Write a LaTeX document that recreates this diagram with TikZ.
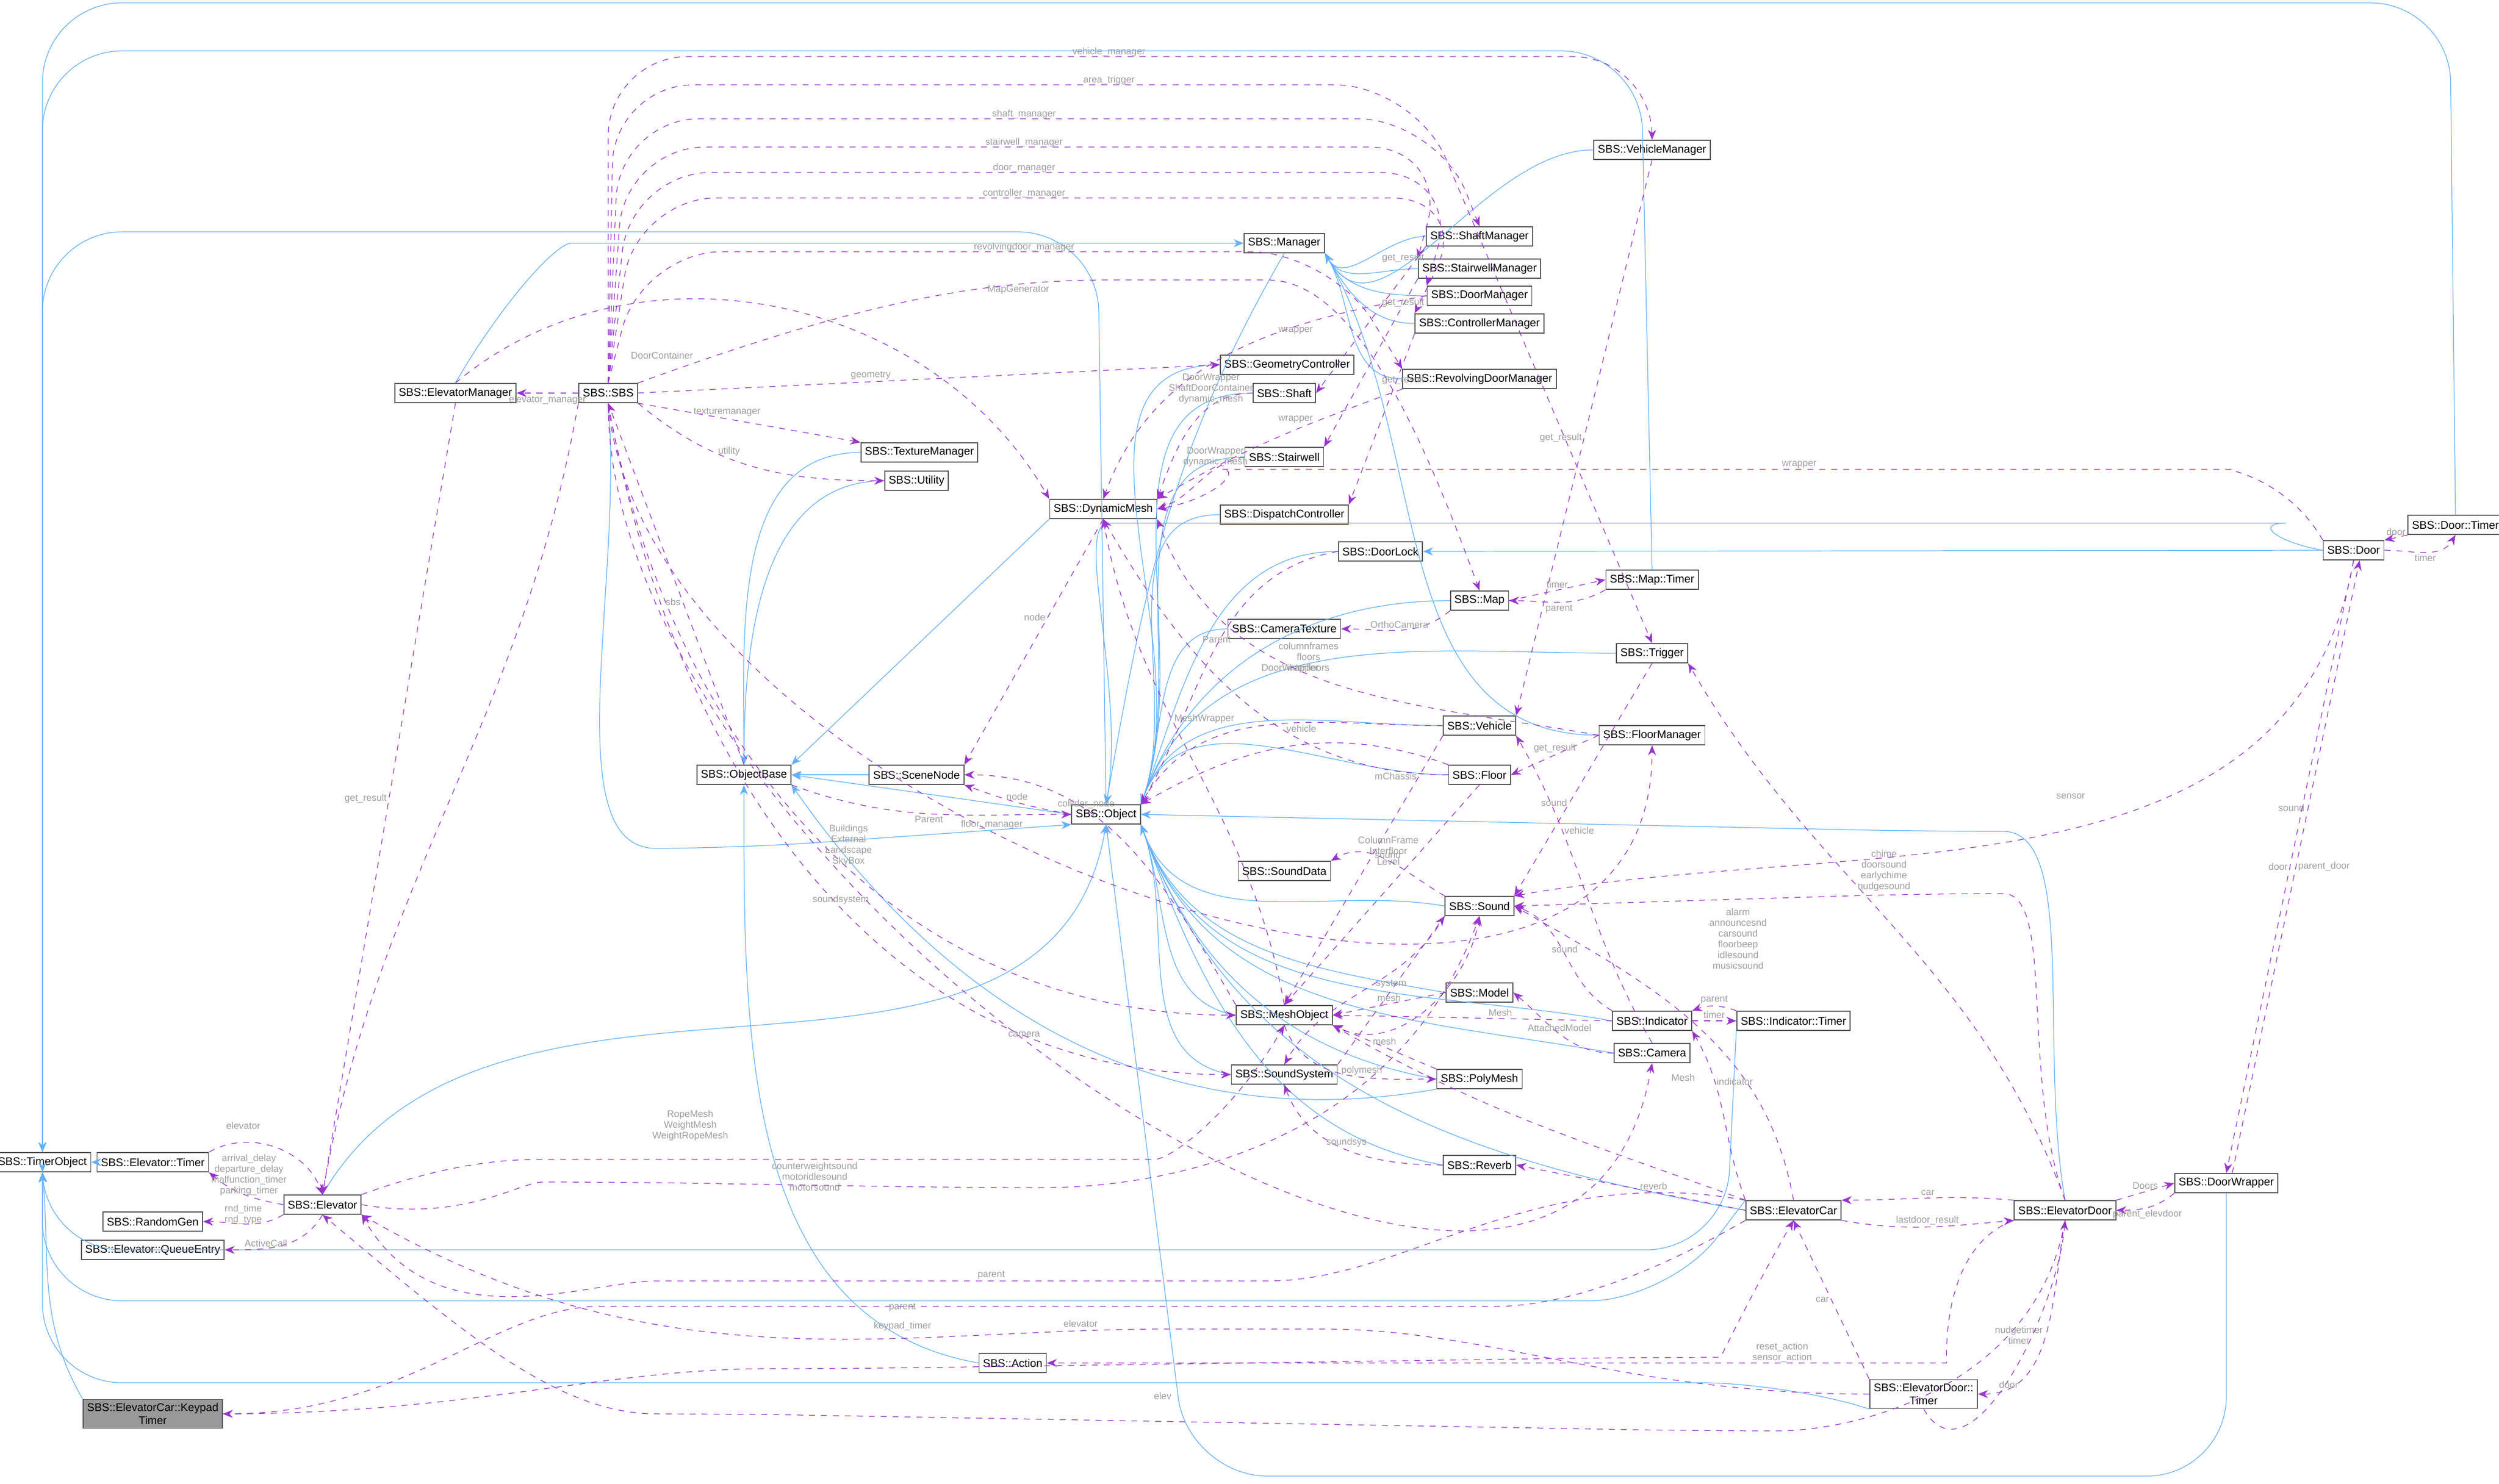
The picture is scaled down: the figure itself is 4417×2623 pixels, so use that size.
\documentclass[tikz,border=0pt]{standalone}
\usepackage{fontspec}
\setmainfont{Liberation Sans}
\usetikzlibrary{arrows.meta}
\definecolor{inhblue}{rgb}{0.39, 0.69, 1.0}
\definecolor{usepurple}{rgb}{0.6, 0.2, 0.8}
\definecolor{lblgray}{rgb}{0.62, 0.62, 0.62}
\definecolor{keygray}{rgb}{0.6, 0.6, 0.6}
\tikzset{cls/.style = {draw=black!65, fill=white, line width=0.5pt, inner sep=2pt,
            minimum height=0.34cm, font=\fontsize{5.6}{6.4}\selectfont, align=center},
         keycls/.style = {cls, fill=keygray},
         inh/.style = {draw=inhblue, line width=0.35pt, rounded corners=40pt, -{Stealth[length=5pt,width=4pt]}},
         use/.style = {draw=usepurple, line width=0.35pt, dashed, rounded corners=40pt, -{Stealth[length=5pt,width=4pt]}},
         lbl/.style = {text=lblgray, font=\fontsize{4.8}{5.4}\selectfont, align=center, inner sep=1pt}}
\begin{document}
\begin{tikzpicture}[x=0.01cm, y=-0.01cm]
\useasboundingbox (0,0) rectangle (4417,2623);
% classes, left part
\node[cls] (timerobj) at (75,2055) {SBS::TimerObject};
\node[keycls] (keytimer) at (270,2500) {SBS::ElevatorCar::Keypad\\Timer};
\node[cls] (elevtimer) at (270,2055) {SBS::Elevator::Timer};
\node[cls] (randomgen) at (270,2160) {SBS::RandomGen};
\node[cls] (queueentry) at (270,2210) {SBS::Elevator::QueueEntry};
\node[cls] (elevator) at (570,2130) {SBS::Elevator};
\node[cls] (elevmgr) at (805,695) {SBS::ElevatorManager};
\node[cls] (sbs) at (1075,695) {SBS::SBS};
\node[cls] (objbase) at (1315,1370) {SBS::ObjectBase};
\node[cls] (texmgr) at (1625,800) {SBS::TextureManager};
\node[cls] (utility) at (1620,850) {SBS::Utility};
\node[cls] (scenenode) at (1620,1370) {SBS::SceneNode};
\node[cls] (dynmesh) at (1950,900) {SBS::DynamicMesh};
\node[cls] (object) at (1955,1440) {SBS::Object};
\node[cls] (action) at (1790,2410) {SBS::Action};
% classes, middle part
\node[cls] (manager) at (2270,430) {SBS::Manager};
\node[cls] (geomctrl) at (2275,645) {SBS::GeometryController};
\node[cls] (shaft) at (2270,695) {SBS::Shaft};
\node[cls] (stairwell) at (2270,808) {SBS::Stairwell};
\node[cls] (dispatch) at (2270,910) {SBS::DispatchController};
\node[cls] (camtex) at (2270,1112) {SBS::CameraTexture};
\node[cls] (sounddata) at (2270,1540) {SBS::SoundData};
\node[cls] (meshobj) at (2270,1795) {SBS::MeshObject};
\node[cls] (soundsys) at (2270,1900) {SBS::SoundSystem};
\node[cls] (shaftmgr) at (2615,418) {SBS::ShaftManager};
\node[cls] (stairmgr) at (2615,475) {SBS::StairwellManager};
\node[cls] (doormgr) at (2615,523) {SBS::DoorManager};
\node[cls] (ctrlmgr) at (2615,572) {SBS::ControllerManager};
\node[cls] (revmgr) at (2615,670) {SBS::RevolvingDoorManager};
\node[cls] (doorlock) at (2440,975) {SBS::DoorLock};
\node[cls] (map) at (2615,1062) {SBS::Map};
\node[cls] (vehicle) at (2615,1283) {SBS::Vehicle};
\node[cls] (floor) at (2615,1370) {SBS::Floor};
\node[cls] (sound) at (2615,1602) {SBS::Sound};
\node[cls] (model) at (2615,1755) {SBS::Model};
\node[cls] (polymesh) at (2615,1908) {SBS::PolyMesh};
\node[cls] (reverb) at (2615,2060) {SBS::Reverb};
% classes, right part
\node[cls] (vehmgr) at (2920,265) {SBS::VehicleManager};
\node[cls] (maptimer) at (2920,1025) {SBS::Map::Timer};
\node[cls] (trigger) at (2920,1155) {SBS::Trigger};
\node[cls] (floormgr) at (2920,1300) {SBS::FloorManager};
\node[cls] (indicator) at (2920,1805) {SBS::Indicator};
\node[cls] (camera) at (2920,1862) {SBS::Camera};
\node[cls] (indtimer) at (3170,1805) {SBS::Indicator::Timer};
\node[cls] (elevcar) at (3170,2140) {SBS::ElevatorCar};
\node[cls] (edtimer) at (3400,2465) {SBS::ElevatorDoor::\\Timer};
\node[cls] (elevdoor) at (3650,2140) {SBS::ElevatorDoor};
\node[cls] (doorwrap) at (3935,2092) {SBS::DoorWrapper};
\node[cls] (door) at (4160,973) {SBS::Door};
\node[cls] (doortimer) at (4340,928) {SBS::Door::Timer};

% inheritance
\draw[inh] (elevtimer) -- (timerobj);
\draw[inh] (keytimer.north west) to[out=120,in=-85] (timerobj.south);
\draw[inh] (elevcar.north west) -- (2950,2300) -- (75,2300) -- (timerobj.south);
\draw[inh] (edtimer.south west) -- (3150,2445) -- (75,2445) -- (timerobj.south);
\draw[inh] (indtimer.south west) -- (3050,2210) -- (75,2210) -- (timerobj.south);
\draw[inh] (doortimer.north) -- (4330,5) -- (75,5) -- (timerobj.north);
\draw[inh] (maptimer.north) -- (2900,90) -- (75,90) -- (timerobj.north);
\draw[inh] (object.north) -- (1940,410) -- (75,410) -- (timerobj.north);
\draw[inh] (elevmgr.north) to[out=60,in=180] (1150,430) -- (manager.west);
\foreach \m in {shaftmgr,stairmgr,doormgr,ctrlmgr,revmgr,floormgr,vehmgr}
  \draw[inh] (\m.west) to[out=180,in=-60] (manager.south east);
\draw[inh] (manager.south) to[out=-120,in=80] (object.north);
\foreach \c in {geomctrl,shaft,stairwell,dispatch,doorlock,camtex,map,trigger,vehicle,floor}
  \draw[inh] (\c.west) to[out=180,in=70] (object.north east);
\foreach \c in {sound,model,meshobj,soundsys,polymesh,reverb,indicator,camera,elevcar}
  \draw[inh] (\c.west) to[out=170,in=-70] (object.south east);
\draw[inh] (elevdoor.north) to[out=100,in=0] (3400,1470) -- (object.east);
\draw[inh] (doorwrap.south) -- (3935,2610) -- (2100,2610) -- (object.south);
\draw[inh] (elevator.north) to[out=60,in=-100] (object.south);
\draw[inh] (door.west) to[out=170,in=0] (3900,925) -- (2100,925) to[out=180,in=80] (object.north);
\draw[inh] (door.west) -- (doorlock.east);
\draw[inh] (sbs.south) to[out=-85,in=180] (1300,1500) -- (object.south west);
\draw[inh] (object.west) -- (objbase.east);
\draw[inh] (scenenode.west) -- (objbase.east);
\draw[inh] (dynmesh.south west) -- (objbase.north east);
\draw[inh] (texmgr.west) to[out=180,in=90] (objbase.north);
\draw[inh] (utility.west) to[out=180,in=90] (objbase.north);
\draw[inh] (action.west) to[out=170,in=-90] (objbase.south);
\draw[inh] (polymesh.south west) to[out=-170,in=-55] (objbase.south east);

% usage, from SBS
\draw[use] (sbs.north) -- (1075,100) -- (2920,100) -- (vehmgr.north);
\node[lbl] at (1960,92) {vehicle\_manager};
\draw[use] (sbs.north) -- (1085,150) -- (2500,150) -- (trigger.north);
\node[lbl] at (1960,142) {area\_trigger};
\draw[use] (sbs.north) -- (1095,210) -- (2540,210) -- (shaftmgr.north);
\node[lbl] at (1810,202) {shaft\_manager};
\draw[use] (sbs.north) -- (1105,260) -- (2560,260) -- (stairmgr.north west);
\node[lbl] at (1810,252) {stairwell\_manager};
\draw[use] (sbs.north) -- (1115,305) -- (2580,305) -- (doormgr.north west);
\node[lbl] at (1810,297) {door\_manager};
\draw[use] (sbs.north) -- (1125,350) -- (2600,350) -- (ctrlmgr.north west);
\node[lbl] at (1810,342) {controller\_manager};
\draw[use] (sbs.north) -- (1135,445) -- (2350,445) -- (revmgr.north west);
\node[lbl] at (1810,437) {revolvingdoor\_manager};
\draw[use] (sbs.north east) to[out=20,in=180] (2100,495) to[out=0,in=110] (map.north);
\node[lbl] at (1800,512) {MapGenerator};
\draw[use] (sbs.east) -- node[lbl,pos=0.4,above] {geometry} (geomctrl.west);
\draw[use] (sbs.south east) -- node[lbl,pos=0.4,above] {texturemanager} (texmgr.north west);
\draw[use] (sbs.south east) to[out=-40,in=180] node[lbl,pos=0.4,above] {utility} (utility.west);
\draw[use] (sbs.west) -- node[lbl,pos=0.5,below] {elevator\_manager} (elevmgr.east);
\draw[use] (objbase.north) -- node[lbl,pos=0.45,left] {sbs} (sbs.south);
\draw[use] (sbs.south) to[out=-80,in=180] node[lbl,pos=0.55,above] {Buildings\\External\\Landscape\\SkyBox} (meshobj.west);
\draw[use] (sbs.south) to[out=-80,in=180] node[lbl,pos=0.55,above] {soundsystem} (soundsys.west);
\draw[use] (sbs.south) to[out=-85,in=-90] node[lbl,pos=0.4,above] {floor\_manager} (floormgr.south);
\draw[use] (sbs.south) to[out=-90,in=-100] node[lbl,pos=0.45,above] {camera} (camera.south);
\draw[use] (sbs.south west) to[out=-100,in=80] (elevator.north);
\draw[use] (elevmgr.south) -- node[lbl,pos=0.5,left] {get\_result} (elevator.north);
\draw[use] (elevmgr.north) to[out=40,in=120] (dynmesh.north west);
\node[lbl] at (1170,628) {DoorContainer};

% usage, elevator
\draw[use] (elevtimer.north east) to[out=30,in=110] (elevator.north);
\node[lbl] at (430,1990) {elevator};
\draw[use] (elevator.west) to[out=170,in=-40] (elevtimer.south east);
\node[lbl] at (440,2078) {arrival\_delay\\departure\_delay\\malfunction\_timer\\parking\_timer};
\draw[use] (elevator.south west) to[out=-150,in=0] (randomgen.east);
\node[lbl] at (430,2148) {rnd\_time\\rnd\_type};
\draw[use] (elevator.south) to[out=-120,in=0] (queueentry.east);
\node[lbl] at (470,2198) {ActiveCall};
\draw[use] (elevator.north east) to[out=20,in=180] (1100,2050) -- (1900,2050) to[out=0,in=-120] (meshobj.south);
\node[lbl] at (1220,1990) {RopeMesh\\WeightMesh\\WeightRopeMesh};
\draw[use] (elevator.east) to[out=-10,in=180] (1100,2090) -- (1700,2100) to[out=0,in=-110] (sound.south);
\node[lbl] at (1440,2080) {counterweightsound\\motoridlesound\\motorsound};
\draw[use] (elevcar.north west) to[out=170,in=0] (2100,2265) -- (1300,2265) to[out=180,in=-60] (elevator.south east);
\node[lbl] at (1752,2255) {parent};
\draw[use] (edtimer.west) to[out=180,in=0] (2200,2350) to[out=180,in=-30] (elevator.south east);
\node[lbl] at (1910,2340) {elevator};
\draw[use] (elevdoor.south) to[out=-100,in=0] (3000,2530) -- (1300,2500) to[out=180,in=-40] (elevator.south);
\node[lbl] at (2055,2468) {elev};

% usage, meshes and scene nodes
\draw[use] (dynmesh.south) -- node[lbl,pos=0.4,left] {node} (scenenode.north east);
\draw[use] (object.west) to[out=170,in=-20] node[lbl,pos=0.5,above] {node} (scenenode.south east);
\draw[use] (objbase.south east) to[out=-20,in=180] node[lbl,pos=0.5,below] {Parent} (object.west);
\draw[use] (meshobj.north west) to[out=120,in=0] node[lbl,pos=0.65,above] {collider\_node} (scenenode.east);
\draw[use] (meshobj.north) to[out=100,in=-80] node[lbl,pos=0.6,right] {MeshWrapper} (dynmesh.south);
\draw[use] (shaft.west) to[out=180,in=70] node[lbl,pos=0.3,above] {DoorWrapper\\ShaftDoorContainer\\dynamic\_mesh} (dynmesh.north east);
\draw[use] (stairwell.west) to[out=190,in=20] node[lbl,pos=0.3,above] {DoorWrapper\\dynamic\_mesh} (dynmesh.east);
\draw[use] (doormgr.west) to[out=190,in=70] (dynmesh.north);
\node[lbl] at (2290,585) {wrapper};
\draw[use] (revmgr.south west) to[out=-160,in=30] (dynmesh.north east);
\node[lbl] at (2290,742) {wrapper};
\draw[use] (door.north west) to[out=120,in=0] (3800,830) -- (2300,830) to[out=180,in=10] (dynmesh.east);
\node[lbl] at (3180,822) {wrapper};
\draw[use] (floor.west) to[out=180,in=-60] (dynmesh.south);
\node[lbl] at (2280,1182) {DoorWrapper};
\draw[use] (floormgr.west) to[out=170,in=-70] node[lbl,pos=0.55,above] {columnframes\\floors\\interfloors} (dynmesh.south east);
\draw[use] (doorlock.west) to[out=190,in=60] node[lbl,pos=0.5,above] {Parent} (object.north east);
\draw[use] (floor.north west) to[out=160,in=30] (object.north east);
\draw[use] (vehicle.west) to[out=180,in=60] node[lbl,pos=0.4,below] {vehicle} (object.north east);
\draw[use] (vehicle.south west) -- node[lbl,pos=0.15,left] {mChassis} (meshobj.north);
\draw[use] (floor.south) -- node[lbl,pos=0.3,left] {ColumnFrame\\Interfloor\\Level} (meshobj.north);
\draw[use] (model.west) -- node[lbl,pos=0.5,above] {mesh} (meshobj.east);
\draw[use] (polymesh.north west) -- node[lbl,pos=0.5,above] {mesh} (meshobj.south east);
\draw[use] (meshobj.south) to[out=-70,in=180] node[lbl,pos=0.6,above] {polymesh} (polymesh.west);
\draw[use] (indicator.west) -- node[lbl,pos=0.4,above] {Mesh} (meshobj.east);
\draw[use] (elevcar.north west) to[out=160,in=-30] (meshobj.south east);
\node[lbl] at (2975,1905) {Mesh};

% usage, maps, vehicles, triggers
\draw[use] (map.east) -- node[lbl,pos=0.5,above] {timer} (maptimer.west);
\draw[use] (maptimer.south west) to[out=-150,in=0] node[lbl,pos=0.5,below] {parent} (map.east);
\draw[use] (map.south west) to[out=-140,in=0] node[lbl,pos=0.5,above] {OrthoCamera} (camtex.east);
\draw[use] (vehmgr.south) -- node[lbl,pos=0.5,left] {get\_result} (vehicle.north east);
\draw[use] (camera.north) to[out=120,in=-60] node[lbl,pos=0.7,right] {vehicle} (vehicle.south east);
\draw[use] (floormgr.west) -- node[lbl,pos=0.5,above] {get\_result} (floor.east);
\draw[use] (shaftmgr.south west) -- (shaft.east);
\draw[use] (stairmgr.south west) -- (stairwell.north east);
\draw[use] (ctrlmgr.south west) -- (dispatch.north east);
\node[lbl] at (2480,456) {get\_result};
\node[lbl] at (2480,535) {get\_result};
\node[lbl] at (2480,672) {get\_result};
\draw[use] (trigger.south) -- node[lbl,pos=0.6,left] {sound} (sound.north east);
\draw[use] (elevdoor.north) to[out=110,in=-60] (trigger.south east);
\node[lbl] at (3660,1408) {sensor};

% usage, sounds
\draw[use] (sound.north west) to[out=150,in=30] node[lbl,pos=0.5,above] {sound} (sounddata.north east);
\draw[use] (soundsys.north east) -- node[lbl,pos=0.5,above] {system} (sound.south west);
\draw[use] (meshobj.south east) to[out=-30,in=-100] (sound.south);
\draw[use] (sound.south west) to[out=-120,in=60] (soundsys.north);
\draw[use] (reverb.west) to[out=180,in=-70] node[lbl,pos=0.5,above] {soundsys} (soundsys.south);
\draw[use] (indicator.north west) to[out=150,in=-20] node[lbl,pos=0.5,above] {sound} (sound.east);
\draw[use] (elevcar.north) to[out=100,in=-30] (sound.east);
\node[lbl] at (3072,1660) {alarm\\announcesnd\\carsound\\floorbeep\\idlesound\\musicsound};
\draw[use] (elevdoor.north) to[out=110,in=0] (3400,1580) -- (sound.east);
\node[lbl] at (3330,1540) {chime\\doorsound\\earlychime\\nudgesound};
\draw[use] (door.south) to[out=-100,in=10] (sound.north east);
\node[lbl] at (4050,1428) {sound};
\draw[use] (camera.west) to[out=180,in=-40] node[lbl,pos=0.5,above] {AttachedModel} (model.east);

% usage, cars and doors
\draw[use] (indicator.east) -- node[lbl,pos=0.5,above] {timer} (indtimer.west);
\draw[use] (indtimer.north west) to[out=160,in=20] node[lbl,pos=0.5,above] {parent} (indicator.north east);
\draw[use] (elevcar.north west) to[out=110,in=-60] node[lbl,pos=0.7,right] {indicator} (indicator.south east);
\draw[use] (elevcar.west) -- node[lbl,pos=0.4,above] {reverb} (reverb.east);
\draw[use] (elevdoor.north west) to[out=175,in=0] node[lbl,pos=0.5,above] {car} (elevcar.north east);
\draw[use] (elevcar.south east) to[out=-10,in=185] node[lbl,pos=0.5,above] {lastdoor\_result} (elevdoor.south west);
\draw[use] (edtimer.north west) -- node[lbl,pos=0.5,left] {car} (elevcar.south);
\draw[use] (elevdoor.south) to[out=-100,in=0] node[lbl,pos=0.5,left] {nudgetimer\\timer} (edtimer.east);
\draw[use] (edtimer.south) to[out=-60,in=-95] node[lbl,pos=0.5,below] {door} (elevdoor.south);
\draw[use] (elevdoor.north east) -- node[lbl,pos=0.5,above] {Doors} (doorwrap.west);
\draw[use] (doorwrap.south west) to[out=-140,in=0] node[lbl,pos=0.5,below] {parent\_elevdoor} (elevdoor.east);
\draw[use] (door.south) -- node[lbl,pos=0.5,left] {door} (doorwrap.north);
\draw[use] ([xshift=3pt]doorwrap.north) -- node[lbl,pos=0.5,right] {parent\_door} ([xshift=3pt]door.south);
\draw[use] (door.east) to[out=0,in=-120] node[lbl,pos=0.5,below] {timer} (doortimer.south);
\draw[use] (doortimer.south west) -- node[lbl,pos=0.5,above] {door} (door.north east);
\draw[use] (elevdoor.south west) to[out=-160,in=0] (3300,2410) -- (action.east);
\node[lbl] at (3150,2392) {reset\_action\\sensor\_action};
\draw[use] (elevcar.south west) to[out=-150,in=0] (2500,2310) -- (1200,2310) to[out=180,in=0] (keytimer.east);
\node[lbl] at (1595,2345) {keypad\_timer};
\draw[use] (keytimer.east) to[out=0,in=180] (1500,2420) -- (2900,2400) to[out=0,in=-120] (elevcar.south);
\node[lbl] at (1595,2312) {parent};
\end{tikzpicture}
\end{document}
